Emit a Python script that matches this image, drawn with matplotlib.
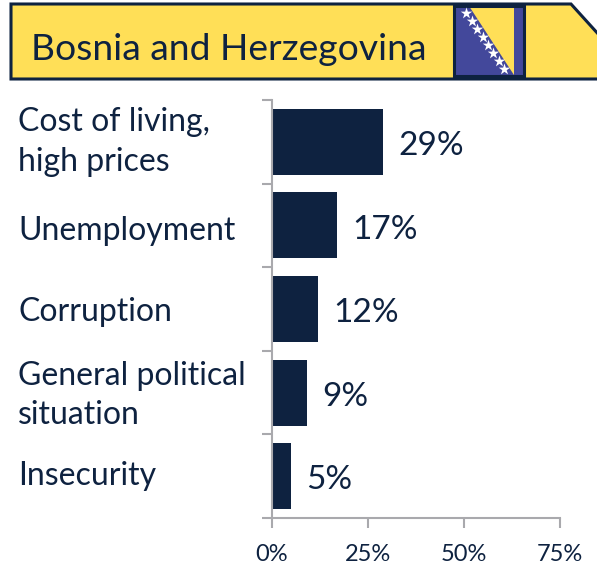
import matplotlib
matplotlib.use('Agg')
import matplotlib.pyplot as plt
from matplotlib.patches import Polygon, Rectangle

plt.rcParams['font.family'] = ['Lato', 'DejaVu Sans']

title = 'Bosnia and Herzegovina'
categories = ['Cost of living,\nhigh prices', 'Unemployment', 'Corruption',
              'General political\nsituation', 'Insecurity']
values = [29, 17, 12, 9, 5]
xticks = [0, 25, 50, 75]

NAVY = '#0e2240'
GREY = '#a9a9ad'
YELLOW = '#ffdf57'
BLUE = '#43489b'
W, H = 597, 564

fig = plt.figure(figsize=(W / 100, H / 100), dpi=100, facecolor='white')

# plot area, placed in reference pixels
ax = fig.add_axes([272 / W, 1 - 518 / H, (560 - 272) / W, (518 - 100) / H])
ypos = range(len(values))
ax.barh(ypos, values, height=0.79, color=NAVY)
ax.set_xlim(0, 75)
ax.set_ylim(len(values) - 0.5, -0.5)

for s in ['top', 'right']:
    ax.spines[s].set_visible(False)
for s in ['left', 'bottom']:
    ax.spines[s].set_color(GREY)
    ax.spines[s].set_linewidth(1.5)

ax.set_xticks(xticks)
ax.set_xticklabels([f'{t}%' for t in xticks], fontsize=17, color=NAVY)
ax.set_yticks([i - 0.5 for i in range(len(values) + 1)])
ax.set_yticklabels([])
ax.tick_params(axis='x', length=7, width=1.5, color=GREY, pad=12)
ax.tick_params(axis='y', length=7, width=1.5, color=GREY)

for i, v in enumerate(values):
    ax.annotate(f'{v}%', (v, i), xytext=(11, -3), textcoords='offset points',
                va='center', ha='left', fontsize=24, color=NAVY)

# small vertical nudges so the labels sit where the reference has them
nudge = [0, -4, -2, -2, 0]
for i, c in enumerate(categories):
    ax.annotate(c, (0, i), xycoords=('figure fraction', 'data'), xytext=(13, nudge[i]),
                textcoords='offset points', ha='left', va='center',
                fontsize=23, color=NAVY, linespacing=1.4)

# banner and flag in pixel coordinates
top = fig.add_axes([0, 0, 1, 1], facecolor='none')
top.set_xlim(0, W)
top.set_ylim(H, 0)
top.axis('off')
top.add_patch(Polygon([(11, 4), (571, 4), (600, 36), (600, 79), (11, 79)], closed=True,
                      facecolor=YELLOW, edgecolor=NAVY, linewidth=2.2))
top.text(31, 50, title, fontsize=26.8, color=NAVY, ha='left', va='center')

top.add_patch(Rectangle((454, 6), 70, 70, facecolor=BLUE, edgecolor='none'))
top.add_patch(Polygon([(469, 6), (514, 6), (514, 75)], closed=True, facecolor=YELLOW, edgecolor='none'))
top.add_patch(Rectangle((454, 6), 70, 70, facecolor='none', edgecolor=NAVY, linewidth=2.2))
star_x = [466, 472, 477, 483, 488, 493, 499, 504]
star_y = [13, 21, 29, 37, 45, 53, 61, 69]
top.scatter(star_x, star_y, marker='*', s=75, color='white', linewidths=0)

fig.savefig('out.png', dpi=100)
